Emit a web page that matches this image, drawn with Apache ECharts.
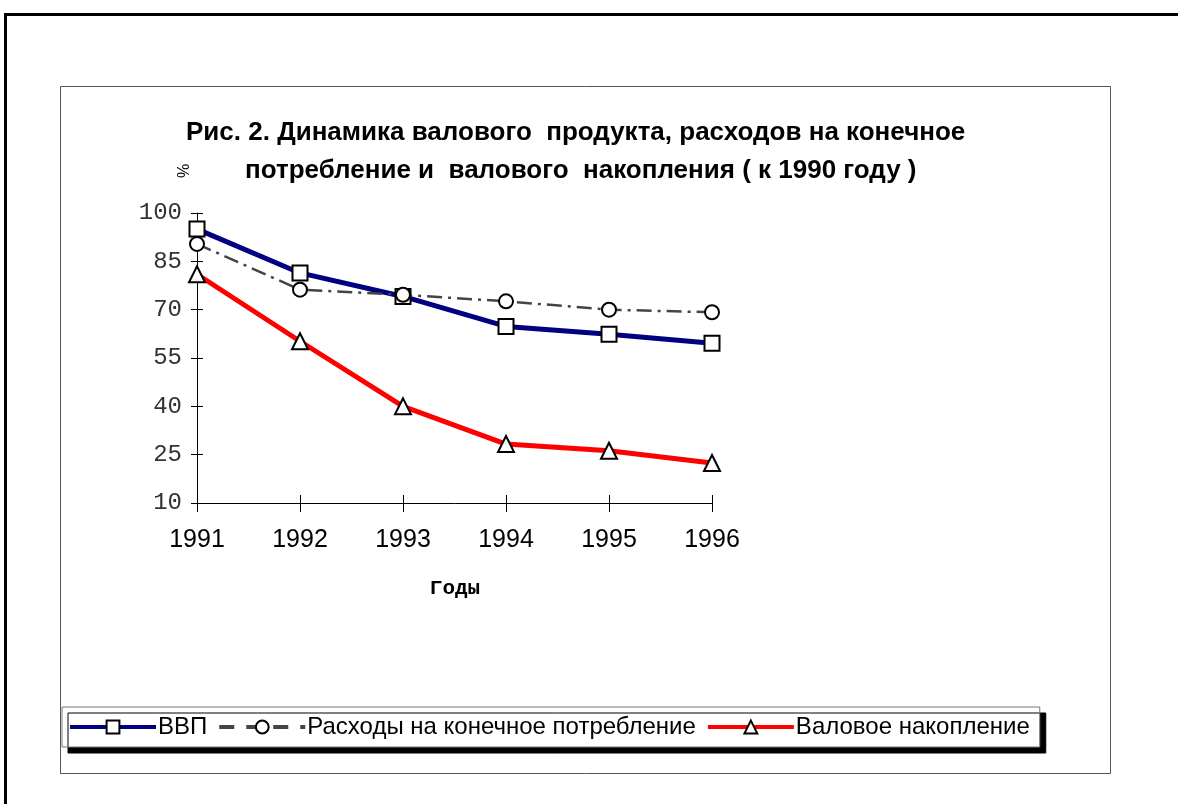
<!DOCTYPE html>
<html>
<head>
<meta charset="utf-8">
<script src="https://cdn.jsdelivr.net/npm/echarts@6/dist/echarts.min.js"></script>
<style>
  html, body { margin: 0; padding: 0; background: #fff; }
  #chart { width: 1178px; height: 804px; }
</style>
</head>
<body>
<div id="chart"></div>
<script>
// данные с рисунка
const years = ['1991', '1992', '1993', '1994', '1995', '1996'];
const vvp = [95, 81.4, 74.1, 64.8, 62.4, 59.6];
const rashody = [90.4, 76.2, 74.6, 72.6, 70, 69.2];
const nakoplenie = [81, 60.2, 40, 28.3, 26.2, 22.4];
const seriesNames = ['ВВП', 'Расходы на конечное потребление', 'Валовое накопление'];

const sans = '"Liberation Sans Narrow", "Liberation Sans", Arial, sans-serif';
const mono = '"Liberation Mono", "Courier New", monospace';

let myChart = echarts.init(document.getElementById('chart'));

// маркер: белая заливка, чёрная обводка
const marker = { color: '#fff', borderColor: '#000', borderWidth: 2 };

let option = {
  animation: false,
  title: [
    {
      text: 'Рис. 2. Динамика валового  продукта, расходов на конечное',
      left: 181, top: 115,
      textStyle: { fontFamily: '"Liberation Sans", Arial, sans-serif', fontWeight: 'bold', fontSize: 26, color: '#000' }
    },
    {
      text: 'потребление и  валового  накопления ( к 1990 году )',
      left: 240, top: 153,
      textStyle: { fontFamily: '"Liberation Sans", Arial, sans-serif', fontWeight: 'bold', fontSize: 26, color: '#000' }
    }
  ],
  graphic: [
    // внешняя рамка
    { type: 'rect', shape: { x: 4, y: 13, width: 1174, height: 3 }, style: { fill: '#000' } },
    { type: 'rect', shape: { x: 4, y: 13, width: 3, height: 791 }, style: { fill: '#000' } },
    // рамка области диаграммы
    { type: 'rect', shape: { x: 60.5, y: 86.5, width: 1050, height: 687 }, style: { fill: 'none', stroke: '#555', lineWidth: 1 }, z: -1 },
    // подписи осей
    { type: 'text', x: 185, y: 171, rotation: Math.PI / 2, style: { text: '%', font: '16px "Liberation Sans", Arial', fill: '#000', align: 'center', verticalAlign: 'middle' } },
    { type: 'text', x: 455, y: 589, style: { text: 'Годы', font: 'bold 21px "Liberation Mono", "Liberation Serif", serif', fill: '#000', align: 'center', verticalAlign: 'middle' } }
  ],
  legend: {
    data: [
      { name: seriesNames[0], lineStyle: { width: 4, color: '#000080' } },
      { name: seriesNames[1], lineStyle: { width: 4, color: '#444', type: [15, 12] } },
      { name: seriesNames[2], lineStyle: { width: 4, color: '#ff0000' } }
    ],
    left: 62, top: 707,
    orient: 'horizontal',
    itemWidth: 86, itemHeight: 16, itemGap: 10,
    padding: [8, 10, 8, 6],
    backgroundColor: '#fff',
    borderColor: '#777', borderWidth: 1,
    shadowColor: '#000', shadowBlur: 0, shadowOffsetX: 6, shadowOffsetY: 6,
    textStyle: { fontFamily: sans, fontSize: 24, color: '#000', padding: [0, 0, 0, -3] }
  },
  grid: { left: 197, right: 466, top: 213, bottom: 301 },
  xAxis: [
    {
      type: 'category', data: years, boundaryGap: false, position: 'bottom',
      axisLine: { lineStyle: { color: '#000', width: 1 } },
      axisTick: { length: 9, lineStyle: { color: '#000' } },
      axisLabel: { margin: 25, fontFamily: sans, fontSize: 25, color: '#000' },
      splitLine: { show: false }
    },
    {
      type: 'category', data: years, boundaryGap: false, position: 'bottom',
      axisLine: { show: false },
      axisTick: { inside: true, length: 8, lineStyle: { color: '#000' } },
      axisLabel: { show: false }
    }
  ],
  yAxis: [
    {
      type: 'value', min: 10, max: 100, interval: 15, position: 'left',
      axisLine: { show: true, lineStyle: { color: '#000', width: 1 } },
      axisTick: { show: true, length: 6, lineStyle: { color: '#000' } },
      axisLabel: { margin: 15, fontFamily: mono, fontSize: 24, color: '#333' },
      splitLine: { show: false }
    },
    {
      type: 'value', min: 10, max: 100, interval: 15, position: 'left',
      axisLine: { show: false },
      axisTick: { show: true, inside: true, length: 6, lineStyle: { color: '#000' } },
      axisLabel: { show: false },
      splitLine: { show: false }
    }
  ],
  series: [
    {
      name: seriesNames[2], type: 'line', data: nakoplenie, z: 2,
      symbol: 'triangle', symbolSize: 16,
      lineStyle: { color: '#ff0000', width: 5 },
      itemStyle: marker, color: '#ff0000'
    },
    {
      name: seriesNames[0], type: 'line', data: vvp, z: 3,
      symbol: 'rect', symbolSize: 15,
      lineStyle: { color: '#000080', width: 5 },
      itemStyle: marker, color: '#000080'
    },
    {
      name: seriesNames[1], type: 'line', data: rashody, z: 4,
      symbol: 'circle', symbolSize: 14,
      lineStyle: { color: '#444', width: 2.5, type: [15, 6, 3, 6] },
      itemStyle: marker, color: '#444'
    }
  ]
};
myChart.setOption(option);
</script>
</body>
</html>
